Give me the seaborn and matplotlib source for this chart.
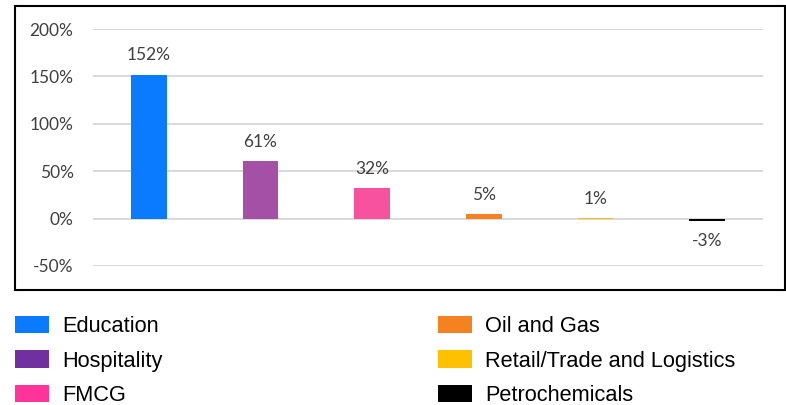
import matplotlib
matplotlib.use("Agg")
import matplotlib.pyplot as plt
from matplotlib.patches import Patch, Rectangle
from matplotlib.ticker import PercentFormatter
import seaborn as sns
import pandas as pd

# values
sectors = ["Education", "Hospitality", "FMCG", "Oil and Gas",
           "Retail/Trade and Logistics", "Petrochemicals"]
growth = [1.52, 0.61, 0.32, 0.05, 0.01, -0.03]
labels = ["152%", "61%", "32%", "5%", "1%", "-3%"]
bar_colors = ["#0A7BFF", "#A550A7", "#F7529D", "#F5821F", "#FFB81C", "#000000"]
legend_colors = ["#0A7BFF", "#7030A0", "#FF3399", "#F58220", "#FFC000", "#000000"]
y_ticks = [-0.5, 0, 0.5, 1.0, 1.5, 2.0]

df = pd.DataFrame({"sector": sectors, "growth": growth})

sns.set_theme(style="white")
plt.rcParams["font.family"] = ["Lato", "DejaVu Sans"]
plt.rcParams["axes.unicode_minus"] = False

fig = plt.figure(figsize=(7.86, 4.05), dpi=100)
ax = fig.add_axes([93 / 786, 139 / 405, 670 / 786, 237 / 405])

# gridlines under the bars
for t in y_ticks:
    ax.axhline(t, color="#D9D9D9", lw=1.4, zorder=0)

sns.barplot(data=df, x="sector", y="growth", hue="sector",
            palette=dict(zip(sectors, bar_colors)), width=0.32,
            legend=False, ax=ax, zorder=2, saturation=1, linewidth=0)

for cont, lab in zip(ax.containers, labels):
    ax.bar_label(cont, labels=[lab], padding=8, fontsize=12.5, color="#404040")

ax.set_ylim(-0.5, 2.0)
ax.set_xlim(-0.5, len(sectors) - 0.5)
ax.set_yticks(y_ticks)
ax.yaxis.set_major_formatter(PercentFormatter(1.0, decimals=0))
ax.tick_params(axis="y", length=0, pad=14, labelsize=12.5, labelcolor="#404040")
ax.set_xticks([])
ax.set_xlabel("")
ax.set_ylabel("")
sns.despine(ax=ax, left=True, bottom=True)

# chart border like the Excel chart area
fig.patches.append(Rectangle((15 / 786, 115 / 405), 770 / 786, 284 / 405,
                             transform=fig.transFigure, fill=False,
                             edgecolor="black", lw=1.5))

# legend in two columns below the chart
handles = [Patch(facecolor=c, edgecolor="none", label=s)
           for s, c in zip(sectors, legend_colors)]
legend_kw = dict(frameon=False, fontsize=15.7, handlelength=1.55,
                 handleheight=0.85, handletextpad=0.6, labelspacing=0.6,
                 borderpad=0, borderaxespad=0)
fig.legend(handles=handles[:3], loc="upper left",
           bbox_to_anchor=(15 / 786, 1 - 316 / 405), **legend_kw)
fig.legend(handles=handles[3:], loc="upper left",
           bbox_to_anchor=(438 / 786, 1 - 316 / 405), **legend_kw)
for leg in fig.legends:
    for txt in leg.get_texts():
        txt.set_family(["Liberation Sans", "DejaVu Sans"])
        txt.set_color("black")

fig.savefig("out.png", dpi=100)
